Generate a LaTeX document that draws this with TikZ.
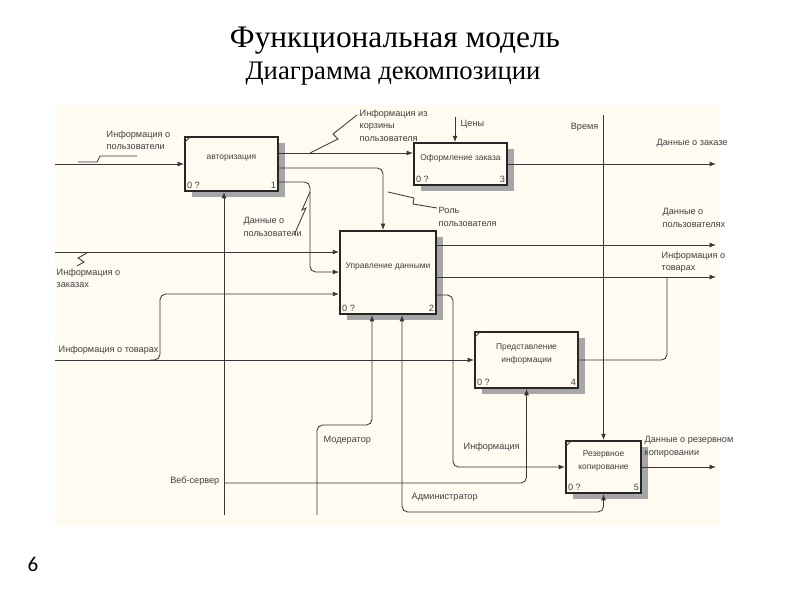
\documentclass[tikz,border=0pt]{standalone}
\usepackage{fontspec}
\setmainfont{Liberation Serif}
\newfontfamily\idef{Liberation Sans}
\newfontfamily\slidenum{Carlito}
\usetikzlibrary{arrows.meta,shadows}
\definecolor{cream}{RGB}{255,251,241}
\definecolor{ink}{RGB}{55,55,55}

\begin{document}
\begin{tikzpicture}[x=0.025cm,y=-0.025cm,>={Latex[length=4.5pt,width=3.5pt]},
	line/.style={draw=ink,line width=0.6pt},
	lab/.style={font=\idef\fontsize{6.5}{9}\selectfont,text=black!75,align=left,inner sep=1pt},
	box/.style={draw=black!85,line width=1.3pt,fill=cream,align=center,inner xsep=1pt,
		font=\idef\fontsize{6}{9}\selectfont,text=black!75,text depth=0.35cm,
		drop shadow={shadow xshift=0.17cm,shadow yshift=-0.15cm,fill=black!35,opacity=1}}]
			\fill[white] (0,0) rectangle (800,600);
			\useasboundingbox (0,0) rectangle (800,600);
			\fill[cream] (55,105) rectangle (720,525);

			\node[font=\fontsize{22.3}{26}\selectfont] (title) at (395,41) {Функциональная модель};
			\node[font=\fontsize{19}{22}\selectfont] (subtitle) at (393,74) {Диаграмма декомпозиции};
			\node[font=\slidenum\fontsize{15}{18}\selectfont] (page) at (33,564) {6};

			\node[box,minimum width=2.33cm,minimum height=1.35cm,
				label={[lab,anchor=south west,inner sep=2pt]south west:0 ?},
				label={[lab,anchor=south east,inner sep=2pt]south east:1}] (auth) at (231.5,164) {авторизация};
			\node[box,minimum width=2.33cm,minimum height=1.05cm,
				label={[lab,anchor=south west,inner sep=2pt]south west:0 ?},
				label={[lab,anchor=south east,inner sep=2pt]south east:3}] (order) at (460.5,164) {Оформление заказа};
			\node[box,minimum width=2.4cm,minimum height=2.08cm,
				label={[lab,anchor=south west,inner sep=2pt]south west:0 ?},
				label={[lab,anchor=south east,inner sep=2pt]south east:2}] (data) at (388,272.5) {Управление данными};
			\node[box,minimum width=2.58cm,minimum height=1.4cm,
				label={[lab,anchor=south west,inner sep=2pt]south west:0 ?},
				label={[lab,anchor=south east,inner sep=2pt]south east:4}] (view) at (526.5,360) {Представление\\информации};
			\node[box,minimum width=1.88cm,minimum height=1.3cm,
				label={[lab,anchor=south west,inner sep=2pt]south west:0 ?},
				label={[lab,anchor=south east,inner sep=2pt]south east:5}] (backup) at (603.5,467) {Резервное\\копирование};

			\draw[line] ([yshift=-5pt]auth.north west) -- ([xshift=5pt]auth.north west);
			\draw[line] ([yshift=-5pt]view.north west) -- ([xshift=5pt]view.north west);
			\draw[line] ([yshift=-5pt]backup.north west) -- ([xshift=5pt]backup.north west);

			\coordinate (in1) at (55,164);
			\coordinate (in2) at (55,252);
			\coordinate (in3) at (55,360);
			\coordinate (web) at (224,515);
			\coordinate (mod) at (317,515);
			\coordinate (adm) at (402,512);
			\coordinate (time) at (603.5,115);
			\coordinate (price) at (455,117);
			\coordinate (out1) at (716,164);
			\coordinate (out2) at (716,245);
			\coordinate (out3) at (716,277);
			\coordinate (out4) at (716,467);

			\draw[line,->] (in1) -- (auth);
			\draw[line,->] (in2) -- (data.west |- in2);
			\draw[line,->] (in3) -- (view);
			\draw[line,->,rounded corners=4] (150,360) -| (160,330) |- (data.west |- 0,294);

			\draw[line,->] (auth.east |- 0,153) -- (order.west |- 0,153);
			\draw[line,->,rounded corners=4] (auth.east |- 0,168) -| (data.north -| 383,0);
			\draw[line,->,rounded corners=4] (auth.east |- 0,182) -| (310,240) |- (data.west |- 0,272);

			\draw[line,->] (price) -- (order.north -| price);
			\draw[line,->] (time) -- (backup);

			\draw[line,->] (web) -- (auth.south -| web);
			\draw[line,->,rounded corners=4] (web |- 0,483) -| (view.south);
			\draw[line,->,rounded corners=4] (mod) |- (372,425) -- (data.south -| 372,0);
			\draw[line,<->,rounded corners=4] (data.south -| adm) -- (adm) -| (backup.south);

			\draw[line,->] (order) -- (out1);
			\draw[line,->] (data.east |- out2) -- (out2);
			\draw[line,->] (data.east |- out3) -- (out3);
			\draw[line,->,rounded corners=4] (data.east |- 0,295) -| (453,400) |- (backup.west);
			\draw[line,rounded corners=4] (view.east) -| (667,277);
			\draw[line,->] (backup) -- (out4);

			\draw[line] (78,162) -- (97,162) -- (100,156) -- (137,156);
			\draw[line] (310,153) -- (338,139) -- (333,134) -- (357,115);
			\draw[line] (388,192) -- (414,198) -- (413,204) -- (437,208);
			\draw[line] (310,192) -- (302,210) -- (306,208) -- (294,235);
			\draw[line] (87,253) -- (78,258) -- (84,262) -- (77,266);

			\node[lab,anchor=north west] (l-users) at (105,129) {Информация о\\пользователи};
			\node[lab,anchor=north west] (l-cart) at (358,108) {Информация из\\корзины\\пользователя};
			\node[lab,anchor=west] (l-price) at (459,124) {Цены};
			\node[lab,anchor=east] (l-time) at (600,127) {Время};
			\node[lab,anchor=west] (l-order) at (655,143) {Данные о заказе};
			\node[lab,anchor=north west] (l-udata) at (242,216) {Данные о\\пользователи};
			\node[lab,anchor=north west] (l-role) at (437,206) {Роль\\пользователя};
			\node[lab,anchor=north west] (l-uout) at (661,207) {Данные о\\пользователях};
			\node[lab,anchor=north west] (l-gout) at (660,250) {Информация о\\товарах};
			\node[lab,anchor=north west] (l-orders) at (55,267) {Информация о\\заказах};
			\node[lab,anchor=west] (l-goods) at (57,350) {Информация о товарах};
			\node[lab,anchor=west] (l-info) at (462,447) {Информация};
			\node[lab,anchor=west] (l-mod) at (322,440) {Модератор};
			\node[lab,anchor=east] (l-web) at (221,481) {Веб-сервер};
			\node[lab,anchor=west] (l-adm) at (410,497) {Администратор};
			\node[lab,anchor=north west] (l-backup) at (643,435) {Данные о резервном\\копировании};
		\end{tikzpicture}
\end{document}
